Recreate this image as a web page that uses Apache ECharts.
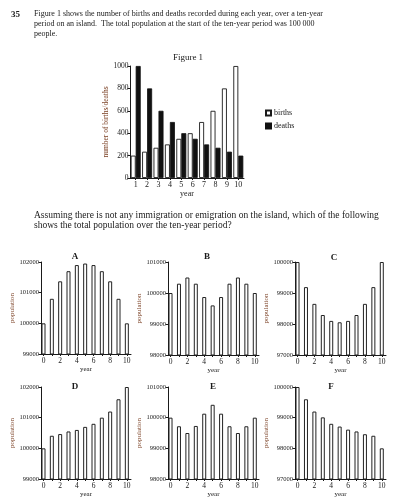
<!DOCTYPE html>
<html>
<head>
<meta charset="utf-8">
<script src="https://cdn.jsdelivr.net/npm/echarts@6/dist/echarts.min.js"></script>
<style>
html,body{margin:0;padding:0;background:#fff;}
#chart{width:403px;height:500px;}
</style>
</head>
<body>
<div id="chart"></div>
<script>
// ---- Figure 1 data ----
const figYears = ['1','2','3','4','5','6','7','8','9','10'];
const births = [200, 235, 270, 300, 350, 400, 500, 600, 800, 1000];
const deaths = [1000, 800, 600, 500, 400, 350, 300, 270, 235, 200];
const figTicks = [0, 200, 400, 600, 800, 1000];

// ---- Option panels data ----
const popYears = [0, 1, 2, 3, 4, 5, 6, 7, 8, 9, 10];
const popLabelYears = [0, 2, 4, 6, 8, 10];
const popA = [100000, 100800, 101370, 101700, 101900, 101950, 101900, 101700, 101370, 100800, 100000];
const popB = [100000, 100300, 100500, 100300, 99870, 99600, 99870, 100300, 100500, 100300, 100000];
const popC = [100000, 99190, 98650, 98290, 98100, 98055, 98100, 98290, 98650, 99190, 100000];
const popD = [100000, 100410, 100465, 100550, 100600, 100700, 100800, 101000, 101200, 101600, 102000];
const popE = [100000, 99720, 99500, 99730, 100130, 100420, 100130, 99720, 99500, 99720, 100000];
const popF = [100000, 99600, 99200, 99010, 98800, 98710, 98610, 98550, 98460, 98410, 98000];
const ticksA = [99000, 100000, 101000, 102000];
const ticksB = [98000, 99000, 100000, 101000];
const ticksC = [97000, 98000, 99000, 100000];
const ticksD = [99000, 100000, 101000, 102000];
const ticksE = [98000, 99000, 100000, 101000];
const ticksF = [97000, 98000, 99000, 100000];
const panelLetters = ['A', 'B', 'C', 'D', 'E', 'F'];
const panelSeries = [popA, popB, popC, popD, popE, popF];
const panelTicks = [ticksA, ticksB, ticksC, ticksD, ticksE, ticksF];

// ---- Text ----
const qNumber = '35';
const introLines = [
  'Figure 1 shows the number of births and deaths recorded during each year, over a ten-year',
  'period on an island.  The total population at the start of the ten-year period was 100\u2009000',
  'people.'
];
const questionLines = [
  'Assuming there is not any immigration or emigration on the island, which of the following',
  'shows the total population over the ten-year period?'
];

// ---- Layout (positions / styles) ----
const SERIF = '"Liberation Serif", "DejaVu Serif", serif';
const INK = '#1a1a1a';
const BROWN = '#7a3f22';
const panelGrids = [
  {left: 41, top: 262, width: 90, height: 92},
  {left: 168, top: 262, width: 91, height: 93},
  {left: 295, top: 262, width: 91, height: 93},
  {left: 41, top: 387, width: 90, height: 92},
  {left: 168, top: 387, width: 91, height: 92},
  {left: 295, top: 387, width: 91, height: 92}
];
const panelTitlePos = [[70, 255], [202, 255], [329, 256], [70, 385], [208, 385], [326, 385]];

const chart = echarts.init(document.getElementById('chart'), null, {renderer: 'canvas'});

const grids = [{left: 130, top: 66, width: 114, height: 112, containLabel: false}];
const xAxes = [{
  gridIndex: 0, type: 'category', data: figYears, boundaryGap: true,
  axisLine: {lineStyle: {color: INK, width: 1}},
  axisTick: {show: true, alignWithLabel: true, length: 2, lineStyle: {color: INK}},
  axisLabel: {fontFamily: SERIF, fontSize: 8, color: INK, margin: 3},
  name: 'year', nameLocation: 'middle', nameGap: 11,
  nameTextStyle: {fontFamily: SERIF, fontSize: 8, color: INK}
}];
const yAxes = [{
  gridIndex: 0, type: 'value', min: 0, max: 1000, interval: 200,
  axisLine: {show: true, lineStyle: {color: INK, width: 1}},
  axisTick: {show: true, length: 2.5, lineStyle: {color: INK}},
  splitLine: {show: false},
  axisLabel: {fontFamily: SERIF, fontSize: 7.5, color: INK, margin: 1.5, formatter: v => String(v)},
  name: 'number of births/deaths', nameLocation: 'middle', nameGap: 13, nameRotate: 90,
  nameTextStyle: {fontFamily: SERIF, fontSize: 7.5, color: BROWN}
}];
const series = [
  {name: 'births', type: 'bar', xAxisIndex: 0, yAxisIndex: 0, data: births, barWidth: 5, barGap: '0%',
   itemStyle: {color: '#fff', borderColor: INK, borderWidth: 0.9}},
  {name: 'deaths', type: 'bar', xAxisIndex: 0, yAxisIndex: 0, data: deaths, barWidth: 5, barGap: '0%',
   itemStyle: {color: '#111', borderColor: '#111', borderWidth: 0.8}}
];
const titles = [{
  text: 'Figure 1', left: 183, top: 48, textAlign: 'center',
  textStyle: {fontFamily: SERIF, fontSize: 9, fontWeight: 'normal', color: INK}
}];

panelSeries.forEach((vals, i) => {
  const g = panelGrids[i];
  const ticks = panelTicks[i];
  grids.push({left: g.left, top: g.top, width: g.width, height: g.height, containLabel: false});
  const gi = i + 1;
  xAxes.push({
    gridIndex: gi, type: 'value', min: -0.3, max: 10.5,
    axisLine: {onZero: false, lineStyle: {color: INK, width: 1}},
    axisTick: {show: true, length: 2, customValues: popYears, lineStyle: {color: INK}},
    axisLabel: {fontFamily: SERIF, fontSize: 7.5, color: INK, margin: 3, customValues: popLabelYears, formatter: v => String(v)},
    splitLine: {show: false},
    name: 'year', nameLocation: 'middle', nameGap: 12,
    nameTextStyle: {fontFamily: SERIF, fontSize: 7, color: INK}
  });
  yAxes.push({
    gridIndex: gi, type: 'value', min: ticks[0], max: ticks[ticks.length - 1], interval: 1000,
    axisLine: {show: true, onZero: false, lineStyle: {color: INK, width: 1}},
    axisTick: {show: true, length: 2.5, lineStyle: {color: INK}},
    splitLine: {show: false},
    axisLabel: {fontFamily: SERIF, fontSize: 6.5, color: '#222', margin: 2, formatter: v => String(v)},
    name: 'population', nameLocation: 'middle', nameGap: 19, nameRotate: 90,
    nameTextStyle: {fontFamily: SERIF, fontSize: 7, color: BROWN}
  });
  series.push({
    name: 'pop' + panelLetters[i], type: 'bar', xAxisIndex: gi, yAxisIndex: gi,
    data: popYears.map((y, k) => [y, vals[k]]), barWidth: 4, clip: true,
    itemStyle: {color: '#fff', borderColor: '#222', borderWidth: 1}
  });
  titles.push({
    text: panelLetters[i], left: panelTitlePos[i][0], top: panelTitlePos[i][1] - 8, textAlign: 'center',
    textStyle: {fontFamily: SERIF, fontSize: 9, fontWeight: 'bold', color: INK}
  });
});

const graphics = [];
graphics.push({type: 'text', left: 11, top: 10, style: {text: qNumber, font: 'bold 9px ' + SERIF, fill: INK}});
introLines.forEach((t, i) => {
  graphics.push({type: 'text', left: 34, top: 10 + i * 10.2, style: {text: t, font: '8px ' + SERIF, fill: INK}});
});
questionLines.forEach((t, i) => {
  graphics.push({type: 'text', left: 34, top: 210 + i * 10.3, style: {text: t, font: '9.5px ' + SERIF, fill: INK}});
});

chart.setOption({
  backgroundColor: '#fff',
  animation: false,
  title: titles,
  legend: {
    data: ['births', 'deaths'], orient: 'vertical', left: 265, top: 109,
    icon: 'rect', itemWidth: 5, itemHeight: 5, itemGap: 5, padding: 0,
    textStyle: {fontFamily: SERIF, fontSize: 8, color: INK, padding: [0, 0, 0, -2]}
  },
  grid: grids,
  xAxis: xAxes,
  yAxis: yAxes,
  series: series,
  graphic: graphics
});
</script>
</body>
</html>
